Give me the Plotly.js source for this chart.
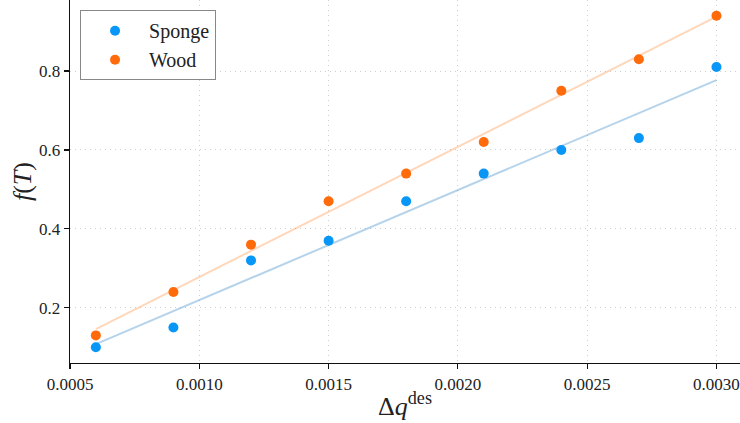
<!DOCTYPE html>
<html>
<head>
<meta charset="utf-8">
<script src="https://cdn.plot.ly/plotly-3.0.1.min.js"></script>
<style>html,body{margin:0;padding:0;background:#fff;}#chart{width:740px;height:423px;}</style>
</head>
<body>
<div id="chart"></div>
<script>
// Data
const dq = [0.0006, 0.0009, 0.0012, 0.0015, 0.0018, 0.0021, 0.0024, 0.0027, 0.0030];
const sponge = [0.10, 0.15, 0.32, 0.37, 0.47, 0.54, 0.60, 0.63, 0.81];
const wood = [0.13, 0.24, 0.36, 0.47, 0.54, 0.62, 0.75, 0.83, 0.94];
// Fitted lines (endpoints)
const fitX = [0.0006, 0.0030];
const spongeFit = [0.108, 0.777];
const woodFit = [0.146, 0.938];
const xTicks = [0.0005, 0.0010, 0.0015, 0.0020, 0.0025, 0.0030];
const yTicks = [0.2, 0.4, 0.6, 0.8];

const serif = '"Liberation Serif", "DejaVu Serif", serif';
const blue = '#0896f7';
const orange = '#ff6a0a';

const traces = [
  {x: fitX, y: spongeFit, mode: 'lines', line: {color: 'rgba(60,140,200,0.38)', width: 2}, showlegend: false, hoverinfo: 'skip'},
  {x: fitX, y: woodFit, mode: 'lines', line: {color: 'rgba(255,130,40,0.32)', width: 2}, showlegend: false, hoverinfo: 'skip'},
  {x: dq, y: sponge, mode: 'markers', name: 'Sponge', marker: {color: blue, size: 10}},
  {x: dq, y: wood, mode: 'markers', name: 'Wood', marker: {color: orange, size: 10}}
];

const axisCommon = {
  showline: true, linecolor: '#111', linewidth: 1.3,
  ticks: 'outside', ticklen: 5, tickcolor: '#111', tickwidth: 1.2,
  showgrid: true, gridcolor: '#cfcfcf', gridwidth: 1, griddash: '1px,4px',
  zeroline: false, mirror: false,
  tickfont: {family: serif, size: 17, color: '#222'}
};

const layout = {
  width: 740, height: 423,
  margin: {l: 70, r: 0, t: 0, b: 60},
  paper_bgcolor: '#fff', plot_bgcolor: '#fff',
  font: {family: serif, color: '#222'},
  xaxis: Object.assign({}, axisCommon, {
    range: [0.0005, 0.003091], tickvals: xTicks, tickformat: '.4f',
    title: {text: 'Δ<i>q</i><sup>des</sup>', font: {family: serif, size: 26, color: '#222'}, standoff: 4}
  }),
  yaxis: Object.assign({}, axisCommon, {
    range: [0.06, 0.98], tickvals: yTicks, tickformat: '.1f',
    title: {text: '<i>f</i>(<i>T</i>)', font: {family: serif, size: 26, color: '#222'}, standoff: 0}
  }),
  legend: {
    x: 0.015, y: 0.972, xanchor: 'left', yanchor: 'top',
    bgcolor: '#fff', bordercolor: '#888', borderwidth: 1,
    font: {family: serif, size: 20, color: '#222'},
    itemwidth: 58, tracegroupgap: 0
  },
  showlegend: true
};

Plotly.newPlot('chart', traces, layout, {displayModeBar: false, staticPlot: true});
</script>
</body>
</html>
